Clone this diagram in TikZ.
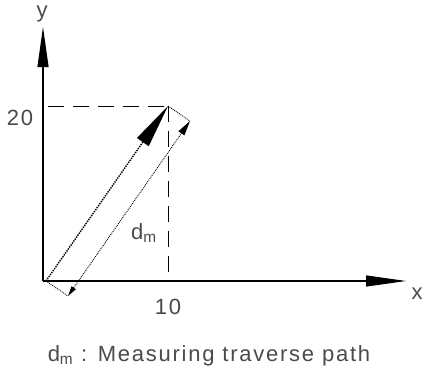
\documentclass[tikz,border=0pt]{standalone}
\usepackage{fontspec}
\setmainfont{Liberation Sans}[LetterSpace=8]
\usetikzlibrary{arrows.meta}
\definecolor{txt}{HTML}{4A4A4A}
\tikzset{
  axis/.style={line width=1.1pt,-{Triangle[length=40pt,width=11pt]}},
  guide/.style={line width=1pt,dash pattern=on 16pt off 9pt},
  mainpath/.style={line width=1.4pt,densely dotted,-{Triangle[length=44pt,width=14pt]}},
  offpath/.style={line width=0.9pt,densely dotted,{Triangle[length=10pt,width=5pt]}-{Triangle[length=15pt,width=7pt]}},
  edge/.style={line width=0.9pt,densely dotted},
  lbl/.style={text=txt,font=\fontsize{22}{24}\selectfont,inner sep=0pt}
}
\begin{document}
\begin{tikzpicture}[x=1pt,y=-1pt]
\useasboundingbox (0,0) rectangle (423,376);
\coordinate (O) at (46,281);
\coordinate (P) at (168,106);
\coordinate (Q) at (190,121);
\coordinate (R) at (68,296);
\coordinate (Ytip) at (43,27);
\coordinate (Xtip) at (406,281);
\coordinate (Ybase) at (43,281);
\coordinate (Xbase) at (43,281);
\coordinate (Hleft) at (48,106);
\coordinate (Vbot) at (168,281);
\draw[axis] (Ybase) -- (Ytip);
\draw[axis] (Xbase) -- (Xtip);
\draw[guide] (Hleft) -- (P);
\draw[guide] (P) -- (Vbot);
\draw[mainpath] (O) -- (P);
\draw[edge] (P) -- (Q);
\draw[edge] (O) -- (R);
\draw[offpath] (R) -- (Q);
\node[lbl] (ylab) at (42,14) {y};
\node[lbl] (xlab) at (417,294) {x};
\node[lbl] (t20) at (20,118) {20};
\node[lbl] (t10) at (168,307) {10};
\node[lbl] (dm) at (144,233) {d\textsubscript{m}};
\node[lbl] (cap) at (209,356) {d\textsubscript{m} : Measuring traverse path};
\end{tikzpicture}
\end{document}
